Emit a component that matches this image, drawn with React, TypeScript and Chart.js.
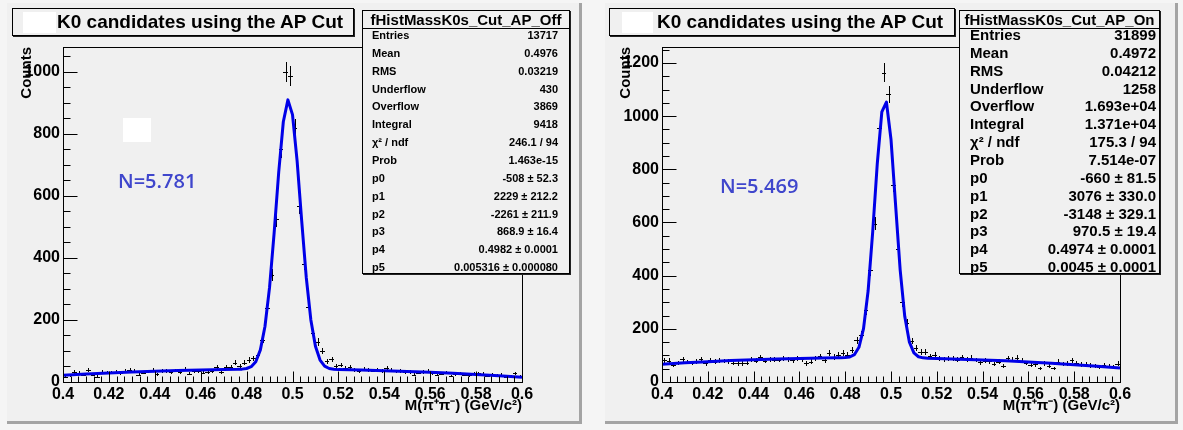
import React, { useEffect, useRef } from "react";
import { Chart, registerables } from "chart.js";
Chart.register(...registerables);

const FONT = '"Liberation Sans", Arial, Helvetica, sans-serif';

// Histogram bin centres (100 bins, 0.4 - 0.6 GeV/c^2)
const binCenters = [
  0.401, 0.403, 0.405, 0.407, 0.409, 0.411, 0.413, 0.415, 0.417, 0.419,
  0.421, 0.423, 0.425, 0.427, 0.429, 0.431, 0.433, 0.435, 0.437, 0.439,
  0.441, 0.443, 0.445, 0.447, 0.449, 0.451, 0.453, 0.455, 0.457, 0.459,
  0.461, 0.463, 0.465, 0.467, 0.469, 0.471, 0.473, 0.475, 0.477, 0.479,
  0.481, 0.483, 0.485, 0.487, 0.489, 0.491, 0.493, 0.495, 0.497, 0.499,
  0.501, 0.503, 0.505, 0.507, 0.509, 0.511, 0.513, 0.515, 0.517, 0.519,
  0.521, 0.523, 0.525, 0.527, 0.529, 0.531, 0.533, 0.535, 0.537, 0.539,
  0.541, 0.543, 0.545, 0.547, 0.549, 0.551, 0.553, 0.555, 0.557, 0.559,
  0.561, 0.563, 0.565, 0.567, 0.569, 0.571, 0.573, 0.575, 0.577, 0.579,
  0.581, 0.583, 0.585, 0.587, 0.589, 0.591, 0.593, 0.595, 0.597, 0.599,
];

// fHistMassK0s_Cut_AP_Off counts
const countsOff = [
  17, 22, 33, 29, 24, 39, 23, 17, 33, 30,
  31, 33, 28, 37, 39, 36, 23, 30, 34, 39,
  25, 35, 36, 33, 37, 32, 41, 27, 34, 36,
  30, 31, 35, 48, 33, 48, 48, 62, 50, 62,
  71, 76, 88, 136, 237, 345, 524, 751, 999, 986,
  818, 567, 379, 243, 158, 129, 101, 67, 73, 52,
  55, 44, 48, 40, 36, 42, 39, 37, 40, 35,
  44, 38, 34, 36, 31, 33, 23, 30, 32, 35,
  29, 24, 27, 30, 19, 26, 27, 24, 22, 27,
  28, 26, 20, 23, 21, 23, 17, 19, 28, 17,
];

// fHistMassK0s_Cut_AP_On counts
const countsOn = [
  82, 80, 64, 72, 86, 75, 71, 78, 86, 70,
  81, 76, 82, 79, 78, 71, 70, 70, 72, 86,
  80, 93, 80, 86, 84, 83, 88, 85, 82, 90,
  86, 70, 76, 89, 97, 82, 110, 94, 103, 110,
  102, 120, 157, 178, 270, 420, 595, 957, 1164, 1082,
  742, 501, 301, 221, 154, 127, 114, 114, 96, 101,
  88, 85, 90, 87, 84, 93, 86, 92, 83, 74,
  80, 78, 67, 76, 60, 90, 84, 92, 80, 72,
  65, 66, 51, 70, 62, 51, 77, 68, 70, 82,
  71, 66, 68, 62, 61, 58, 64, 60, 56, 69,
];

// Fit curve (pol2 + gaus)
const fitXOff = [
  0.4, 0.41, 0.42, 0.43, 0.44, 0.45, 0.46, 0.47, 0.476, 0.478,
  0.48, 0.482, 0.484, 0.486, 0.488, 0.49, 0.492, 0.494, 0.496, 0.498,
  0.5, 0.502, 0.504, 0.506, 0.508, 0.51, 0.512, 0.514, 0.516, 0.518,
  0.52, 0.53, 0.54, 0.55, 0.56, 0.57, 0.58, 0.59, 0.6,
];
const fitYOff = [
  21.8, 25.8, 29.3, 32.4, 35.0, 37.2, 38.9, 40.2, 40.9, 41.5,
  43.5, 49.4, 65.5, 103.5, 179, 305, 481, 677, 839, 909.5,
  862, 714, 520, 337, 200, 115, 70.7, 51.1, 43.6, 40.9,
  39.9, 38.3, 36.4, 34.0, 31.2, 27.9, 24.2, 20.1, 15.4,
];
const fitXOn = [
  0.4, 0.41, 0.42, 0.43, 0.44, 0.45, 0.46, 0.47, 0.476, 0.478,
  0.48, 0.482, 0.484, 0.486, 0.488, 0.49, 0.492, 0.494, 0.496, 0.498,
  0.5, 0.502, 0.504, 0.506, 0.508, 0.51, 0.512, 0.514, 0.516, 0.52,
  0.53, 0.54, 0.55, 0.56, 0.57, 0.58, 0.59, 0.6,
];
const fitYOn = [
  66.7, 72.0, 76.6, 80.6, 84.0, 86.7, 88.8, 90.3, 90.9, 91.1,
  91.8, 94.0, 102.7, 130.4, 200.7, 342.2, 563.5, 820.6, 1015.8, 1053,
  912.3, 666.4, 421.8, 246.9, 151, 109.4, 95, 90.8, 89.2, 88.3,
  86.0, 83.1, 79.5, 75.4, 70.5, 65.1, 59.0, 52.3,
];

const statLabels = [
  "Entries", "Mean", "RMS", "Underflow", "Overflow", "Integral", "χ² / ndf",
  "Prob", "p0", "p1", "p2", "p3", "p4", "p5",
];
const statsOff = [
  "13717", "0.4976", "0.03219", "430", "3869", "9418", "246.1 / 94",
  "1.463e-15", "-508 ± 52.3", "2229 ± 212.2", "-2261 ± 211.9",
  "868.9 ± 16.4", "0.4982 ± 0.0001", "0.005316 ± 0.000080",
];
const statsOn = [
  "31899", "0.4972", "0.04212", "1258", "1.693e+04", "1.371e+04",
  "175.3 / 94", "7.514e-07", "-660 ± 81.5", "3076 ± 330.0",
  "-3148 ± 329.1", "970.5 ± 19.4", "0.4974 ± 0.0001", "0.0045 ± 0.0001",
];

const titleText = "K0 candidates using the AP Cut";
const xTitle = "M(π⁺π⁻) (GeV/c²)";
const yTitle = "Counts";

const BIN_WIDTH = 0.002;
const X_MIN = 0.4;
const X_MAX = 0.6;

const histCrosses = {
  id: "histCrosses",
  beforeDatasetsDraw(chart: any) {
    const ds = chart.data.datasets[0];
    const { ctx, chartArea: a, scales } = chart;
    const x = scales.x;
    const y = scales.y;
    ctx.save();
    ctx.beginPath();
    ctx.rect(a.left, a.top, a.right - a.left, a.bottom - a.top);
    ctx.clip();
    ctx.strokeStyle = "#000";
    ctx.lineWidth = 1;
    ctx.beginPath();
    for (const p of ds.data) {
      const cx = Math.round(x.getPixelForValue(p.x)) + 0.5;
      const x0 = Math.round(x.getPixelForValue(p.x - BIN_WIDTH / 2));
      const x1 = Math.round(x.getPixelForValue(p.x + BIN_WIDTH / 2));
      const cy = Math.round(y.getPixelForValue(p.y)) + 0.5;
      const e = Math.sqrt(p.y);
      const yt = Math.round(y.getPixelForValue(p.y + e));
      const yb = Math.round(y.getPixelForValue(p.y - e));
      ctx.moveTo(x0, cy);
      ctx.lineTo(x1, cy);
      ctx.moveTo(cx, yt);
      ctx.lineTo(cx, yb);
    }
    ctx.stroke();
    ctx.restore();
  },
};

const frameTicks = {
  id: "frameTicks",
  afterDraw(chart: any) {
    const { ctx, chartArea: a, scales } = chart;
    const x = scales.x;
    const y = scales.y;
    const L = Math.round(a.left) + 0.5;
    const R = Math.round(a.right) + 0.5;
    const T = Math.round(a.top) + 0.5;
    const B = Math.round(a.bottom) + 0.5;
    ctx.save();
    ctx.strokeStyle = "#000";
    ctx.lineWidth = 1;
    ctx.beginPath();
    ctx.moveTo(L, T);
    ctx.lineTo(R, T);
    ctx.lineTo(R, B);
    ctx.moveTo(L, T);
    ctx.lineTo(L, B);
    ctx.lineTo(R, B);
    const minorX = 0.02 / 6;
    for (let k = 0; k <= 60; k++) {
      const v = X_MIN + k * minorX;
      if (v > X_MAX + 1e-9) break;
      const px = Math.round(x.getPixelForValue(v)) + 0.5;
      const len = k % 6 === 0 ? 11 : 6;
      ctx.moveTo(px, B);
      ctx.lineTo(px, B - len);
    }
    const yMax = y.max;
    for (let v = 0; v <= yMax; v += 50) {
      const py = Math.round(y.getPixelForValue(v)) + 0.5;
      const len = v % 200 === 0 ? 14 : 7;
      ctx.moveTo(L, py);
      ctx.lineTo(L + len, py);
    }
    ctx.stroke();
    ctx.restore();
  },
};

type ChartProps = {
  canvasLeft: number;
  canvasWidth: number;
  padRight: number;
  yMax: number;
  counts: number[];
  fitX: number[];
  fitY: number[];
};

function HistChart(p: ChartProps) {
  const ref = useRef<HTMLCanvasElement | null>(null);
  useEffect(() => {
    const tickFont = { family: FONT, size: 16, weight: "bold" as const };
    const titleFont = { family: FONT, size: 15, weight: "bold" as const };
    const chart = new Chart(ref.current as HTMLCanvasElement, {
      type: "scatter",
      data: {
        datasets: [
          {
            label: "hist",
            data: binCenters.map((x, i) => ({ x, y: p.counts[i] })),
            pointRadius: 0,
            showLine: false,
          } as any,
          {
            type: "line",
            label: "fit",
            data: p.fitX.map((x, i) => ({ x, y: p.fitY[i] })),
            borderColor: "#0000e8",
            borderWidth: 3,
            pointRadius: 0,
            fill: false,
            tension: 0,
            borderJoinStyle: "round",
          } as any,
        ],
      },
      options: {
        responsive: false,
        animation: false,
        events: [],
        layout: { padding: { left: 14, top: 47, right: p.padRight, bottom: 8 } },
        plugins: {
          legend: { display: false },
          tooltip: { enabled: false },
          title: { display: false },
        },
        scales: {
          x: {
            type: "linear",
            min: X_MIN,
            max: X_MAX,
            afterFit: (s: any) => {
              s.height = 40;
            },
            ticks: {
              stepSize: 0.02,
              autoSkip: false,
              maxRotation: 0,
              padding: 3,
              color: "#000",
              font: tickFont,
              callback: (v: any) => String(parseFloat(Number(v).toFixed(3))),
            },
            grid: { display: false, drawTicks: false, tickLength: 0 },
            border: { display: true, color: "#000", width: 1 },
            title: {
              display: true,
              text: xTitle,
              align: "end",
              color: "#000",
              font: titleFont,
              padding: { top: 0, bottom: 7 },
            },
          },
          y: {
            type: "linear",
            min: 0,
            max: p.yMax,
            afterFit: (s: any) => {
              s.width = 49;
            },
            ticks: {
              stepSize: 200,
              includeBounds: false,
              padding: 3,
              color: "#000",
              font: tickFont,
              callback: (v: any) => String(v),
            },
            grid: { display: false, drawTicks: false, tickLength: 0 },
            border: { display: true, color: "#000", width: 1 },
            title: {
              display: true,
              text: yTitle,
              align: "end",
              color: "#000",
              font: titleFont,
              padding: { top: 4, bottom: 0 },
            },
          },
        },
      } as any,
      plugins: [histCrosses, frameTicks],
    });
    return () => chart.destroy();
  }, []);
  return (
    <canvas
      ref={ref}
      width={p.canvasWidth}
      height={430}
      style={{ position: "absolute", left: p.canvasLeft, top: 0, width: p.canvasWidth, height: 430 }}
    />
  );
}

function TitleBox(props: { left: number; width: number; textLeft: number; whiteLeft: number; whiteWidth: number }) {
  return (
    <div
      style={{
        position: "absolute",
        left: props.left,
        top: 8,
        width: props.width,
        height: 28,
        boxSizing: "border-box",
        border: "1px solid #000",
        boxShadow: "1px 1px 0 #222",
        background: "#f0f0f0",
      }}
    >
      <div
        style={{
          position: "absolute",
          left: props.whiteLeft - props.left - 1,
          top: 3,
          width: props.whiteWidth,
          height: 21,
          background: "#ffffff",
        }}
      />
      <div
        style={{
          position: "absolute",
          left: props.textLeft - props.left - 1,
          top: 0,
          height: 26,
          lineHeight: "26px",
          fontFamily: FONT,
          fontWeight: "bold",
          fontSize: 19,
          color: "#000",
          whiteSpace: "nowrap",
        }}
      >
        {titleText}
      </div>
    </div>
  );
}

function StatsBox(props: {
  left: number;
  width: number;
  header: string;
  values: string[];
  bodySize: number;
  labelPad: number;
  valuePad: number;
}) {
  return (
    <div
      style={{
        position: "absolute",
        left: props.left,
        top: 10,
        width: props.width,
        height: 264,
        boxSizing: "border-box",
        border: "1px solid #000",
        boxShadow: "1px 1px 0 #222",
        background: "#f0f0f0",
        fontFamily: FONT,
        fontWeight: "bold",
        color: "#000",
      }}
    >
      <div
        style={{
          position: "absolute",
          left: 0,
          top: 0,
          width: "100%",
          height: 17,
          lineHeight: "17px",
          fontSize: 15,
          textAlign: "center",
          whiteSpace: "nowrap",
          borderBottom: "1px solid #000",
        }}
      >
        {props.header}
      </div>
      {statLabels.map((lab, i) => (
        <div
          key={lab}
          style={{
            position: "absolute",
            left: props.labelPad,
            right: props.valuePad,
            top: 24 + i * 17.85 - 9,
            height: 18,
            lineHeight: "18px",
            fontSize: props.bodySize,
            display: "flex",
            justifyContent: "space-between",
            whiteSpace: "nowrap",
          }}
        >
          <span>{lab}</span>
          <span>{props.values[i]}</span>
        </div>
      ))}
    </div>
  );
}

function NLabel(props: { left: number; top: number; text: string }) {
  return (
    <div
      style={{
        position: "absolute",
        left: props.left,
        top: props.top,
        height: 22,
        lineHeight: "22px",
        fontFamily: '"Open Sans", "Noto Sans", sans-serif',
        fontWeight: 600,
        fontSize: 20,
        color: "#3f46cc",
        whiteSpace: "nowrap",
      }}
    >
      {props.text}
    </div>
  );
}

function Panel(props: { left: number; width: number }) {
  return (
    <div
      style={{
        position: "absolute",
        left: props.left,
        top: 3,
        width: props.width,
        height: 418,
        background: "#f0f0f0",
        borderRight: "3px solid #a4a4a4",
        borderBottom: "3px solid #a4a4a4",
      }}
    />
  );
}

export default function App() {
  return (
    <div
      style={{
        position: "absolute",
        left: 0,
        top: 0,
        width: 1183,
        height: 430,
        background: "#f5f5f5",
        overflow: "hidden",
      }}
    >
      <Panel left={7} width={572} />
      <Panel left={605} width={570} />
      <HistChart canvasLeft={0} canvasWidth={592} padRight={70} yMax={1080} counts={countsOff} fitX={fitXOff} fitY={fitYOff} />
      <HistChart canvasLeft={599} canvasWidth={584} padRight={63} yMax={1260} counts={countsOn} fitX={fitXOn} fitY={fitYOn} />
      <TitleBox left={12} width={342} textLeft={57} whiteLeft={23} whiteWidth={33} />
      <TitleBox left={609} width={346} textLeft={657} whiteLeft={622} whiteWidth={31} />
      <StatsBox left={362} width={208} header="fHistMassK0s_Cut_AP_Off" values={statsOff} bodySize={11} labelPad={9} valuePad={11} />
      <StatsBox left={959} width={201} header="fHistMassK0s_Cut_AP_On" values={statsOn} bodySize={15} labelPad={10} valuePad={3} />
      <div style={{ position: "absolute", left: 123, top: 118, width: 28, height: 24, background: "#ffffff" }} />
      <NLabel left={118} top={170} text="N=5.781" />
      <NLabel left={720} top={175} text="N=5.469" />
    </div>
  );
}
